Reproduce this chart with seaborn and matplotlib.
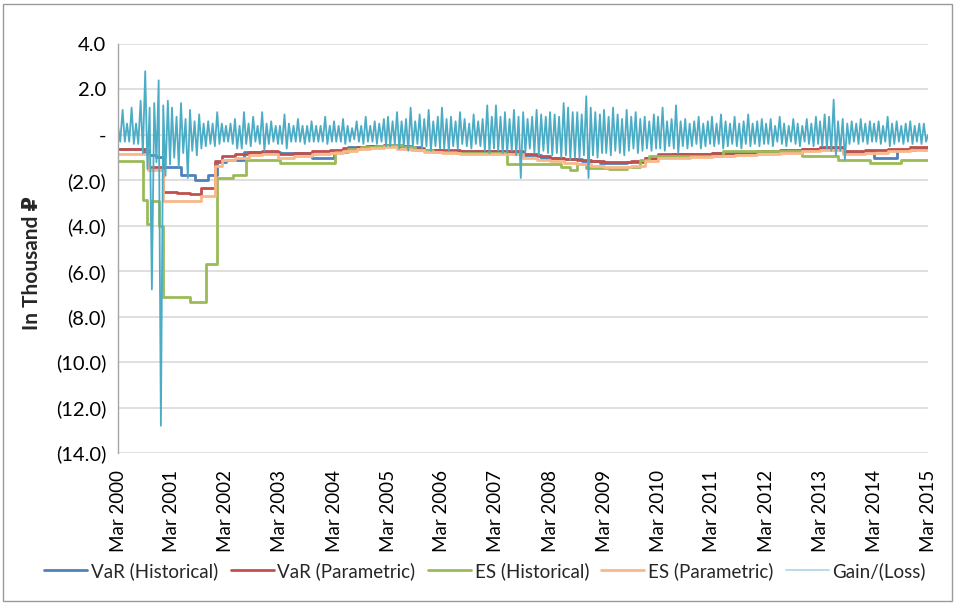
import matplotlib
matplotlib.use("Agg")
import matplotlib.pyplot as plt
from matplotlib.patches import Rectangle
from matplotlib.lines import Line2D
import seaborn as sns
import pandas as pd

# ---------------- data (values in thousand RUB) ----------------
var_hist_dates = ["2000-03-01", "2000-08-15", "2000-09-20", "2000-11-10", "2001-01-01", "2001-05-01",
                  "2001-08-01", "2001-11-01", "2002-01-01", "2002-03-01", "2002-07-01", "2003-03-01",
                  "2003-10-01", "2004-03-01", "2004-06-01", "2004-10-01", "2005-02-01", "2005-06-01",
                  "2005-10-01", "2006-03-01", "2007-06-01", "2007-09-01", "2008-01-01", "2008-06-01",
                  "2008-10-01", "2009-02-01", "2009-08-01", "2009-12-01", "2010-03-01", "2011-03-01",
                  "2012-01-01", "2012-11-01", "2013-03-01", "2013-08-01", "2014-01-01", "2014-03-01",
                  "2014-08-01", "2014-12-01"]
var_hist = [-0.60, -0.75, -0.90, -0.97, -1.40, -1.76, -2.00, -1.76, -1.20, -1.10, -0.75, -0.80,
            -1.00, -0.70, -0.55, -0.50, -0.45, -0.55, -0.65, -0.70, -0.75, -0.90, -1.00, -1.05,
            -1.15, -1.25, -1.20, -1.00, -0.85, -0.80, -0.72, -0.62, -0.58, -0.75, -0.72, -1.00,
            -0.65, -0.58]

var_par_dates = ["2000-03-01", "2000-09-20", "2001-01-01", "2001-04-01", "2001-07-01", "2001-09-15",
                 "2001-12-15", "2002-02-01", "2002-05-01", "2002-08-01", "2002-11-01", "2003-02-15",
                 "2003-06-01", "2003-10-01", "2004-02-01", "2004-05-01", "2004-08-01", "2004-11-01",
                 "2005-02-01", "2005-05-01", "2005-08-01", "2005-11-01", "2006-03-01", "2006-07-01",
                 "2007-06-01", "2007-09-01", "2007-12-01", "2008-03-01", "2008-06-01", "2008-09-01",
                 "2008-12-01", "2009-03-01", "2009-09-01", "2009-12-01", "2010-03-01", "2010-06-01",
                 "2010-10-01", "2011-03-01", "2011-08-01", "2012-01-01", "2012-06-01", "2012-11-01",
                 "2013-03-01", "2013-08-01", "2014-01-01", "2014-06-01", "2014-11-01"]
var_par = [-0.62, -1.40, -2.50, -2.55, -2.60, -2.35, -1.15, -0.95, -0.85, -0.75, -0.70, -0.85,
           -0.80, -0.72, -0.65, -0.58, -0.52, -0.48, -0.45, -0.50, -0.58, -0.65, -0.68, -0.70,
           -0.72, -0.85, -0.95, -1.00, -1.05, -1.10, -1.15, -1.20, -1.15, -1.00, -0.88, -0.85,
           -0.82, -0.80, -0.75, -0.72, -0.68, -0.62, -0.55, -0.72, -0.68, -0.62, -0.55]

es_par = [-0.82, -1.55, -2.90, -2.90, -2.92, -2.70, -1.35, -1.10, -1.00, -0.90, -0.85, -1.00,
          -0.95, -0.85, -0.78, -0.70, -0.62, -0.57, -0.53, -0.60, -0.68, -0.77, -0.80, -0.82,
          -0.85, -1.00, -1.10, -1.17, -1.22, -1.30, -1.35, -1.40, -1.35, -1.17, -1.03, -1.00,
          -0.96, -0.94, -0.88, -0.85, -0.80, -0.73, -0.65, -0.85, -0.80, -0.73, -0.65]

es_hist_dates = ["2000-03-01", "2000-08-15", "2000-09-10", "2000-10-10", "2000-12-01", "2001-01-01",
                 "2001-07-01", "2001-10-15", "2002-01-01", "2002-04-15", "2002-07-15", "2003-03-01",
                 "2004-03-10", "2004-06-01", "2004-09-01", "2004-12-01", "2005-03-01", "2005-06-01",
                 "2005-09-01", "2006-01-01", "2006-06-01", "2007-01-01", "2007-05-15", "2008-05-15",
                 "2008-07-15", "2008-09-01", "2008-11-01", "2009-04-01", "2009-08-01", "2009-11-01",
                 "2010-01-01", "2011-05-15", "2012-11-01", "2013-07-01", "2014-02-01", "2014-09-01"]
es_hist = [-1.13, -2.85, -3.90, -2.90, -4.00, -7.15, -7.35, -5.70, -1.90, -1.76, -1.10, -1.23,
           -0.75, -0.60, -0.52, -0.47, -0.45, -0.55, -0.65, -0.75, -0.78, -0.80, -1.28, -1.40,
           -1.55, -1.30, -1.45, -1.50, -1.42, -1.10, -0.95, -0.70, -0.93, -1.10, -1.23, -1.10]

# monthly high / low of the daily gain/(loss), Mar 2000 .. Feb 2015
gain_high = [0.4, 1.1, 0.5, 1.2, 0.5, 1.5, 2.8, 1.2, 1.4, 2.4, 1.3, 1.5,
             1.2, 0.8, 1.4, 0.7, 1.1, 0.6, 0.9, 0.5, 0.6, 0.5, 1.0, 0.5,
             0.4, 0.5, 0.7, 0.4, 1.0, 0.5, 0.8, 0.4, 1.0, 0.5, 0.6, 0.4,
             0.4, 0.9, 0.5, 0.4, 0.7, 0.4, 0.4, 0.6, 0.4, 0.4, 0.8, 0.4,
             0.6, 0.4, 0.7, 0.4, 0.3, 0.6, 0.4, 0.8, 0.4, 0.6, 0.5, 0.7,
             0.8, 0.6, 1.0, 0.6, 0.7, 1.2, 0.6, 0.9, 0.7, 1.1, 0.6, 0.8,
             1.2, 0.7, 0.8, 0.6, 1.0, 0.7, 0.5, 0.9, 0.6, 0.7, 1.3, 0.8,
             1.3, 0.8, 1.0, 0.7, 1.1, 0.8, 1.0, 0.7, 0.8, 1.1, 0.9, 0.8,
             1.0, 0.9, 0.8, 1.4, 1.2, 1.0, 1.0, 0.9, 1.7, 1.2, 1.0, 0.9,
             1.1, 0.8, 1.2, 0.9, 0.7, 1.1, 0.8, 1.0, 0.7, 0.8, 0.6, 0.9,
             0.8, 1.2, 0.6, 0.7, 1.3, 0.6, 0.7, 0.5, 0.6, 0.8, 0.5, 0.6,
             0.8, 0.5, 0.9, 0.6, 0.5, 0.8, 0.5, 0.6, 0.9, 0.5, 0.6, 0.7,
             0.5, 0.7, 0.4, 0.8, 0.5, 0.4, 0.7, 0.5, 0.4, 0.7, 0.5, 0.8,
             0.6, 0.9, 0.8, 1.55, 0.6, 0.7, 0.5, 0.6, 0.5, 0.7, 0.5, 0.6,
             0.5, 0.6, 0.4, 0.8, 0.5, 0.6, 0.4, 0.5, 0.6, 0.4, 0.5, 0.5]
gain_low = [-0.3, -0.3, -0.3, -0.4, -0.4, -0.8, -1.5, -6.8, -1.2, -12.8, -1.8, -1.3,
            -1.0, -1.4, -0.8, -1.9, -0.7, -0.9, -0.6, -0.5, -0.4, -0.5, -0.4, -0.3,
            -0.3, -0.4, -0.6, -0.6, -0.4, -0.5, -0.3, -0.4, -0.7, -0.4, -0.3, -0.4,
            -0.4, -0.6, -0.3, -0.3, -0.3, -0.4, -0.3, -0.3, -0.3, -0.3, -0.4, -0.3,
            -0.3, -0.3, -0.4, -0.3, -0.2, -0.3, -0.4, -0.3, -0.3, -0.4, -0.3, -0.5,
            -0.5, -0.4, -0.6, -0.5, -0.7, -0.5, -0.4, -0.6, -0.5, -0.7, -0.5, -0.6,
            -0.6, -0.7, -0.5, -0.6, -0.4, -0.5, -0.6, -0.4, -0.5, -0.7, -0.8, -0.6,
            -0.7, -0.8, -0.8, -0.7, -0.9, -1.9, -0.8, -0.6, -0.8, -0.9, -0.7, -0.8,
            -0.9, -0.8, -1.0, -0.9, -1.1, -1.0, -1.0, -0.9, -1.9, -0.9, -1.0, -0.8,
            -0.8, -0.9, -0.7, -0.8, -0.9, -0.7, -0.6, -0.8, -0.7, -0.6, -0.7, -0.6,
            -0.6, -0.7, -0.5, -0.6, -0.8, -0.5, -0.6, -0.5, -0.4, -0.6, -0.5, -0.4,
            -0.5, -0.4, -0.6, -0.5, -0.4, -0.5, -0.6, -0.4, -0.5, -0.4, -0.5, -0.4,
            -0.4, -0.5, -0.3, -0.4, -0.5, -0.3, -0.4, -0.5, -0.3, -0.4, -0.5, -0.4,
            -0.5, -0.6, -0.7, -0.9, -0.7, -1.1, -0.4, -0.3, -0.4, -0.3, -0.4, -0.3,
            -0.3, -0.4, -0.3, -0.5, -0.4, -0.3, -0.4, -0.3, -0.4, -0.3, -0.4, -0.3]

y_ticks = [-14, -12, -10, -8, -6, -4, -2, 0, 2, 4]
y_tick_labels = ["(14.0)", "(12.0)", "(10.0)", "(8.0)", "(6.0)", "(4.0)", "(2.0)", "-", "2.0", "4.0"]
x_tick_labels = [f"Mar {y}" for y in range(2000, 2016)]
series_names = ["VaR (Historical)", "VaR (Parametric)", "ES (Historical)", "ES (Parametric)", "Gain/(Loss)"]
colors = ["#4F81BD", "#C0504D", "#9BBB59", "#F9B88A", "#4BACC6"]
END = "2015-03-01"

# ---------------- plotting ----------------
sns.set_theme(style="white")
plt.rcParams["font.family"] = ["Lato", "DejaVu Sans"]

fig = plt.figure(figsize=(9.55, 6.04), dpi=100)
ax = fig.add_axes([118 / 955, 1 - 453 / 604, 810 / 955, 409 / 604])


def step_frame(dates, vals):
    d = pd.to_datetime(list(dates) + [END])
    return pd.DataFrame({"date": d, "val": list(vals) + [vals[-1]]})


steps = [(var_hist_dates, var_hist), (var_par_dates, var_par),
         (es_hist_dates, es_hist), (var_par_dates, es_par)]
for (d, v), name, c in zip(steps, series_names[:4], colors[:4]):
    df = step_frame(d, v)
    sns.lineplot(data=df, x="date", y="val", ax=ax, color=c, lw=2.0,
                 drawstyle="steps-post", estimator=None, legend=False)

months = pd.date_range("2000-03-01", periods=len(gain_high), freq="MS")
gx, gy = [], []
for m, hi, lo in zip(months, gain_high, gain_low):
    gx += [m, m + pd.Timedelta(days=15)]
    gy += [hi, lo]
gx.append(pd.Timestamp(END))
gy.append(0.0)
gdf = pd.DataFrame({"date": gx, "val": gy})
sns.lineplot(data=gdf, x="date", y="val", ax=ax, color=colors[4], lw=1.3,
             estimator=None, sort=False, legend=False)

# axes styling
ax.set_ylim(-14, 4)
ax.set_xlim(pd.Timestamp("2000-03-01"), pd.Timestamp(END))
ax.set_yticks(y_ticks)
ax.set_yticklabels(y_tick_labels)
xt = pd.date_range("2000-03-01", END, freq="12MS")
ax.set_xticks(xt)
ax.set_xticklabels(x_tick_labels, rotation=90)
ax.tick_params(axis="y", length=5, color="#D9D9D9", width=1, pad=3.5, labelsize=14.5, labelcolor="#000000")
ax.tick_params(axis="x", length=0, pad=12, labelsize=13.5, labelcolor="#000000")
ax.grid(axis="y", color="#D9D9D9", lw=1.2)
ax.grid(axis="x", visible=False)
ax.set_axisbelow(True)
for s in ["top", "right", "bottom"]:
    ax.spines[s].set_visible(False)
ax.spines["left"].set_color("#A6A6A6")
ax.spines["left"].set_linewidth(1.0)
ax.set_xlabel("")
ax.set_ylabel("In Thousand \u20bd", fontsize=15, fontweight="bold")
ax.yaxis.set_label_coords(-0.094, 0.465)

handles = [Line2D([], [], color=c, lw=2.0) for c in colors[:4]]
handles.append(Line2D([], [], color="#A9D6E3", lw=1.2))
fig.legend(handles, series_names, loc="center", bbox_to_anchor=(0.508, 1 - 571 / 604), ncol=5,
           frameon=False, fontsize=13.5, handlelength=2.3, handletextpad=0.2, columnspacing=0.65)

fig.patches.append(Rectangle((3 / 955, 3 / 604), 949 / 955, 597 / 604, transform=fig.transFigure,
                             fill=False, edgecolor="#9A9A9A", lw=1.0))

fig.savefig("out.png", dpi=100)
